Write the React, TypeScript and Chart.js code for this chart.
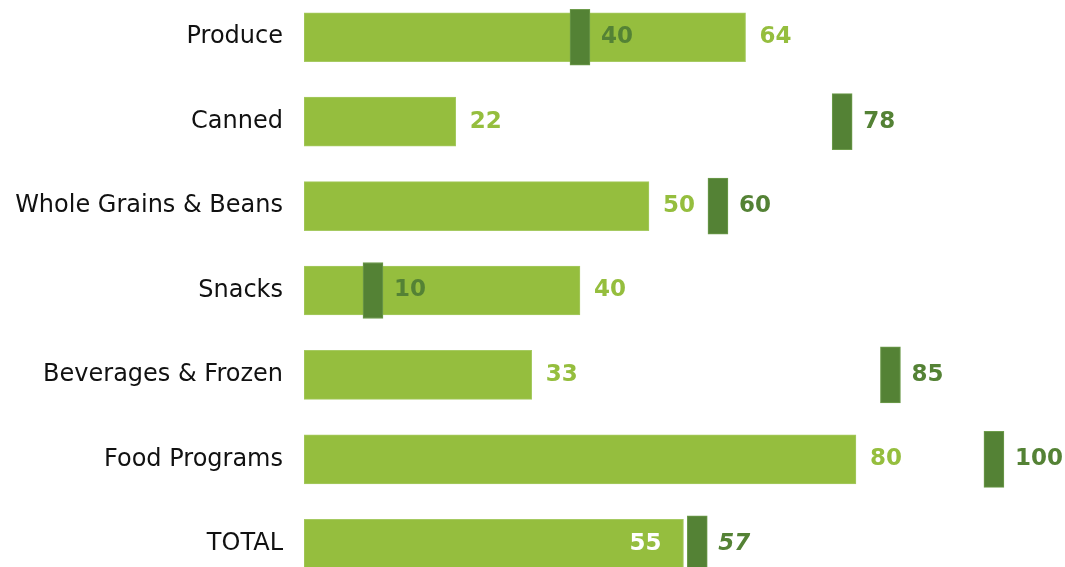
import React, { useEffect, useRef } from "react";
import { Chart, registerables } from "chart.js";

Chart.register(...registerables);

const categories = [
  "Produce",
  "Canned",
  "Whole Grains & Beans",
  "Snacks",
  "Beverages & Frozen",
  "Food Programs",
  "TOTAL",
];
const actualValues = [64, 22, 50, 40, 33, 80, 55];
const targetValues = [40, 78, 60, 10, 85, 100, 57];

const LIGHT = "#95BE3E";
const DARK = "#548235";
const MARKER_HALF = 1.45;

const labelPlugin = {
  id: "bulletLabels",
  afterDatasetsDraw(chart: any) {
    const ctx = chart.ctx;
    const barMeta = chart.getDatasetMeta(0);
    const tgtMeta = chart.getDatasetMeta(1);
    ctx.save();
    ctx.textBaseline = "middle";
    categories.forEach((_, i) => {
      const bar = barMeta.data[i];
      const mk = tgtMeta.data[i];
      const a = actualValues[i];
      const t = targetValues[i];
      const isTotal = i === categories.length - 1;
      ctx.font = "bold 23px 'DejaVu Sans'";
      if (t > a && t - a < 4) {
        ctx.fillStyle = "#FFFFFF";
        ctx.textAlign = "right";
        ctx.fillText(String(a), bar.x - 22, bar.y);
      } else {
        ctx.fillStyle = LIGHT;
        ctx.textAlign = "left";
        ctx.fillText(String(a), bar.x + 14, bar.y);
      }
      ctx.font = (isTotal ? "italic " : "") + "bold 23px 'DejaVu Sans'";
      ctx.fillStyle = DARK;
      ctx.textAlign = "left";
      ctx.fillText(String(t), mk.x + 11, mk.y);
    });
    ctx.restore();
  },
};

export default function App() {
  const canvasRef = useRef<HTMLCanvasElement | null>(null);

  useEffect(() => {
    if (!canvasRef.current) return;
    const chart = new Chart(canvasRef.current, {
      type: "bar",
      data: {
        labels: categories,
        datasets: [
          {
            label: "Actual",
            data: actualValues,
            backgroundColor: LIGHT,
            borderColor: "#A6CA62",
            borderWidth: 1,
            borderSkipped: false,
            barThickness: 49,
            grouped: false,
            order: 1,
          },
          {
            label: "Target",
            data: targetValues.map((t) => [t - MARKER_HALF, t + MARKER_HALF]),
            backgroundColor: DARK,
            borderColor: "#6E9C4C",
            borderWidth: 1,
            borderSkipped: false,
            barThickness: 56,
            grouped: false,
            order: 0,
          },
        ],
      },
      options: {
        indexAxis: "y",
        animation: false,
        responsive: true,
        maintainAspectRatio: false,
        layout: { padding: 0 },
        plugins: {
          legend: { display: false },
          tooltip: { enabled: false },
        },
        scales: {
          x: {
            display: false,
            min: 0,
            max: 110.3,
          },
          y: {
            afterFit: (scale: any) => {
              scale.width = 304;
              scale.paddingTop = 0;
              scale.paddingBottom = 0;
            },
            border: { display: false },
            grid: { display: false, drawTicks: false },
            ticks: {
              padding: 21,
              color: "#111111",
              font: { family: "'DejaVu Sans'", size: 24 },
            },
          },
        },
      },
      plugins: [labelPlugin],
    } as any);
    return () => chart.destroy();
  }, []);

  return (
    <div
      style={{
        position: "fixed",
        left: 0,
        top: 0,
        width: 1065,
        height: 567,
        overflow: "hidden",
        background: "#FFFFFF",
      }}
    >
      <div style={{ position: "absolute", left: 0, top: -5, width: 1065, height: 591 }}>
        <canvas ref={canvasRef} />
      </div>
    </div>
  );
}
